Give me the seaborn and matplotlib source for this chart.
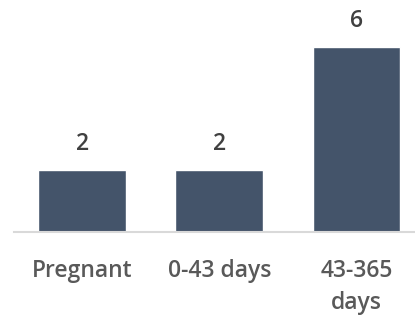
import matplotlib
matplotlib.use("Agg")
import matplotlib.pyplot as plt
from matplotlib import font_manager as fm
import seaborn as sns
import pandas as pd

categories = ["Pregnant", "0-43 days", "43-365\ndays"]
values = [2, 2, 6]

sns.set_theme(style="white")
plt.rcParams['font.family'] = ['Open Sans', 'DejaVu Sans']

semi_path = None
for f in fm.fontManager.ttflist:
    if "OpenSans-Semibold" in f.fname or "OpenSans-SemiBold" in f.fname:
        semi_path = f.fname
        break
if semi_path is None:
    semi_path = fm.findfont(fm.FontProperties(family="Open Sans", weight="bold"))
lab_fp = fm.FontProperties(fname=semi_path, size=16.5)
num_fp = fm.FontProperties(fname=semi_path, size=16.5)

df = pd.DataFrame({"cat": categories, "val": values})

fig = plt.figure(figsize=(4.15, 3.27), dpi=100)
ax = fig.add_axes([13.5/415, 0.2914, 411.5/415, 0.660])
sns.barplot(data=df, x="cat", y="val", color="#44546A", saturation=1, width=0.64, ax=ax)
ax.set_xlim(-0.5, 2.5)
ax.set_ylim(0, 7)
ax.set_xlabel("")
ax.set_ylabel("")
ax.set_yticks([])
for s in ["top", "right", "left"]:
    ax.spines[s].set_visible(False)
ax.spines["bottom"].set_color("#D9D9D9")
ax.spines["bottom"].set_linewidth(1.5)
ax.tick_params(axis="x", length=0, pad=20, labelcolor="#595959")
for lbl in ax.get_xticklabels():
    lbl.set_fontproperties(lab_fp)
    lbl.set_linespacing(1.4)
for c in ax.containers:
    ax.bar_label(c, labels=[str(v) for v in values], padding=10,
                 color="#404040", fontproperties=num_fp)
fig.savefig("out.png", dpi=100)
